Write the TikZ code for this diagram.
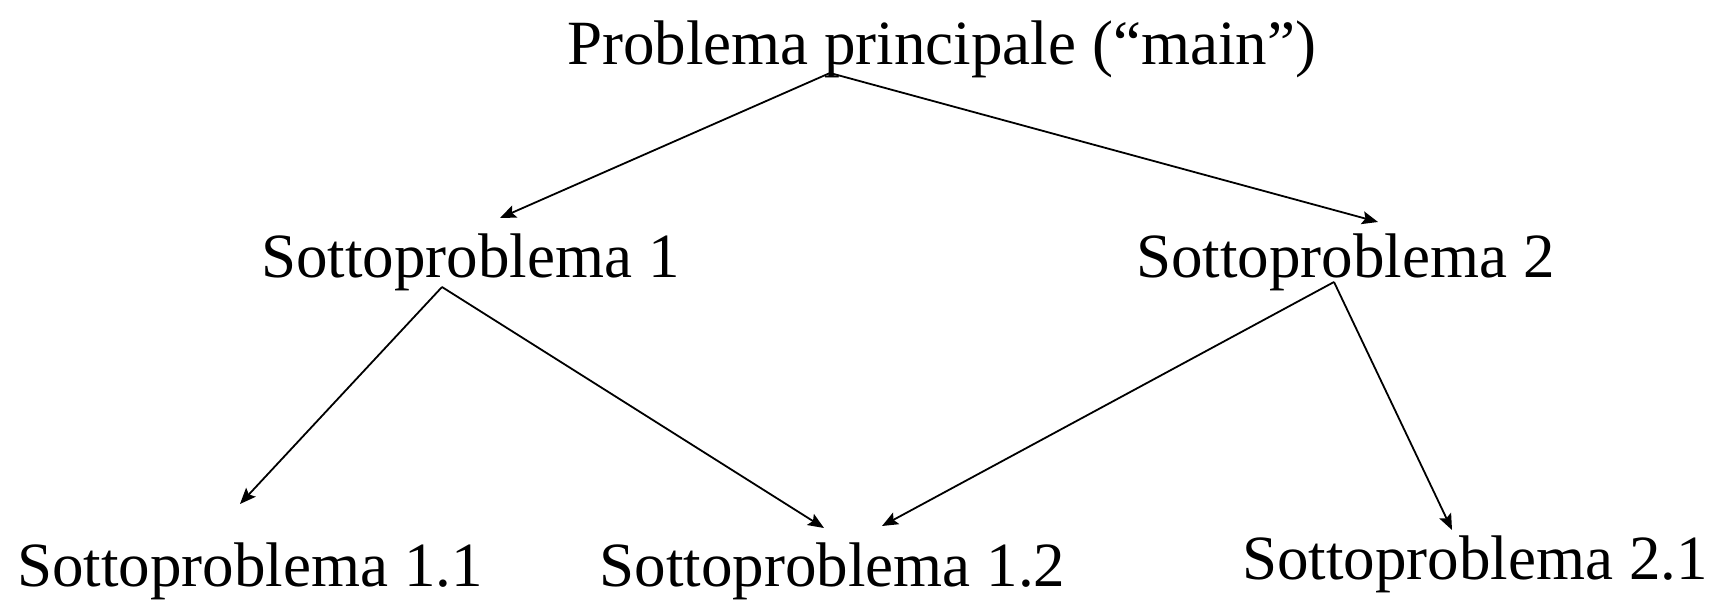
\documentclass[tikz,border=0pt]{standalone}
\usepackage{fontspec}
\setmainfont{Liberation Serif}
\usetikzlibrary{arrows.meta}
\begin{document}
\begin{tikzpicture}[x=1pt,y=1pt,
  lbl/.style={inner sep=0pt,anchor=base,font=\fontsize{63}{63}\selectfont},
  conn/.style={line width=1.8pt,-{Stealth[length=16pt,width=13pt,inset=3pt]}}]
\useasboundingbox (0,0) rectangle (1712,600);
\node[lbl] (main) at (941.5,535) {Problema principale (“main”)};
\node[lbl] (s1) at (470.5,322) {Sottoproblema 1};
\node[lbl] (s2) at (1345.5,322) {Sottoproblema 2};
\node[lbl] (s11) at (250,14) {Sottoproblema 1.1};
\node[lbl] (s12) at (832.5,14) {Sottoproblema 1.2};
\node[lbl] (s21) at (1475,21) {Sottoproblema 2.1};
\coordinate (mo) at (830,527);
\coordinate (s1i) at (500,382);
\coordinate (s2i) at (1378,378);
\coordinate (s1o) at (442,313);
\coordinate (s2o) at (1334,318);
\coordinate (s11i) at (240,96);
\coordinate (s12a) at (824,72);
\coordinate (s12b) at (882,74);
\coordinate (s21i) at (1452,70);
\draw[conn] (mo) -- (s1i);
\draw[conn] (mo) -- (s2i);
\draw[conn] (s1o) -- (s11i);
\draw[conn] (s1o) -- (s12a);
\draw[conn] (s2o) -- (s12b);
\draw[conn] (s2o) -- (s21i);
\end{tikzpicture}
\end{document}
